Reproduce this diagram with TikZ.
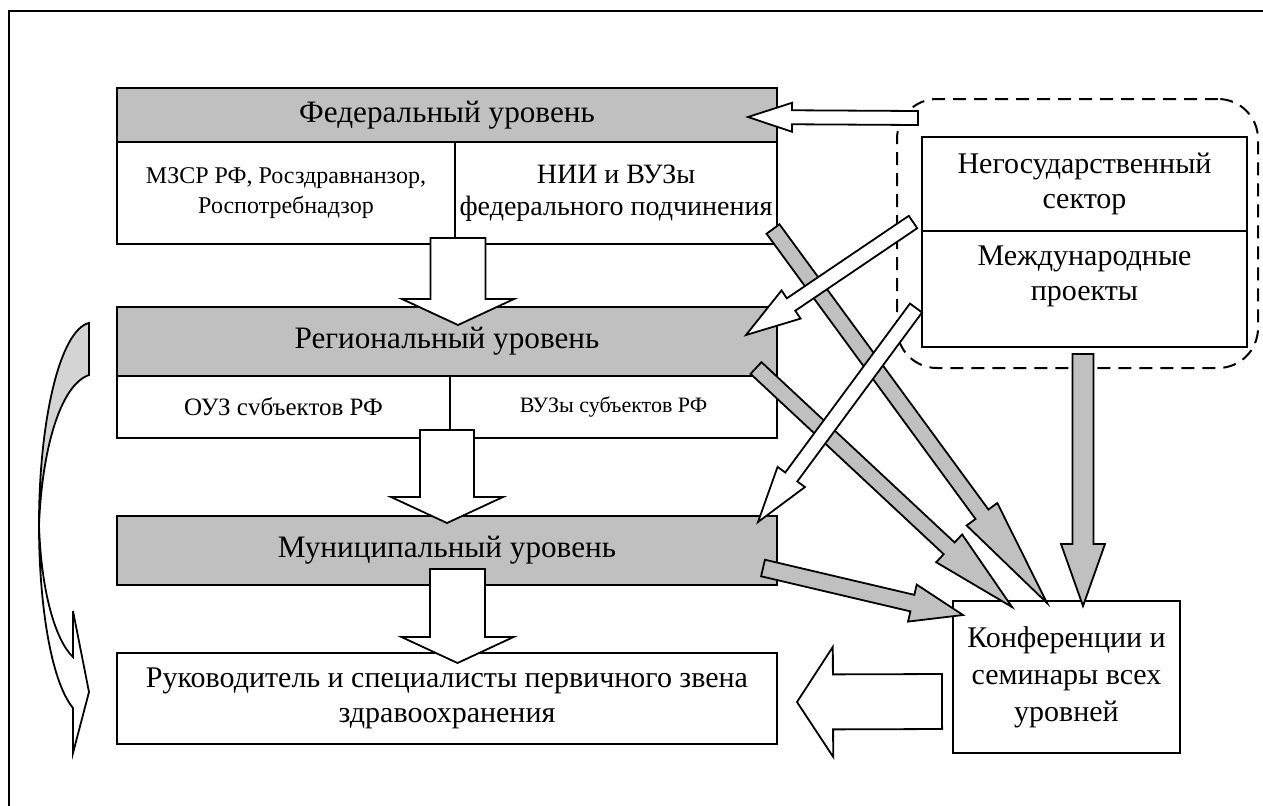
\documentclass[tikz,border=0pt]{standalone}
\usepackage{fontspec}
\setmainfont{Liberation Serif}
\usetikzlibrary{positioning, calc}
\definecolor{hdrgray}{RGB}{192,192,192}
\definecolor{curvegray}{RGB}{212,212,212}
\tikzstyle{box}=[draw, line width=1pt, outer sep=0pt, inner sep=0pt, align=center, minimum width=330pt]
\tikzstyle{hdr}=[box, fill=hdrgray, font=\fontsize{15.6}{18}\selectfont]
\tikzstyle{cell}=[box, fill=white]
\tikzstyle{warr}=[draw, line width=0.9pt, fill=white]
\tikzstyle{garr}=[draw, line width=0.9pt, fill=hdrgray]

% block arrow: style, tail, tip, shaft half width, head half width, head length (pt)
\newcommand\blockarr[6]{%
  \draw[#1] let \p1=(#2), \p2=(#3),
    \n1={atan2(\y2-\y1,\x2-\x1)}, \n2={veclen(\x2-\x1,\y2-\y1)-#6} in
    ($(\p1)+(\n1+90:#4pt)$) -- ($(\p1)+(\n1:\n2)+(\n1+90:#4pt)$)
    -- ($(\p1)+(\n1:\n2)+(\n1+90:#5pt)$) -- (\p2)
    -- ($(\p1)+(\n1:\n2)+(\n1-90:#5pt)$) -- ($(\p1)+(\n1:\n2)+(\n1-90:#4pt)$)
    -- ($(\p1)+(\n1-90:#4pt)$) -- cycle;}

\begin{document}
\begin{tikzpicture}[x=0.5pt, y=-0.5pt]
    \useasboundingbox (0,0) rectangle (1263,805);
    \draw[line width=1pt] (9,11) rectangle (1300,840);

    % levels
    \node [hdr, minimum height=27pt] (fed) at (447,115) {Федеральный уровень};
    \node [cell, minimum width=169pt, minimum height=51pt, font=\fontsize{12}{15}\selectfont,
           below right=0pt and 0pt of fed.south west] (fedl) {МЗСР РФ, Росздравнанзор,\\Роспотребнадзор};
    \node [cell, minimum width=161pt, minimum height=51pt, font=\fontsize{14}{16}\selectfont,
           right=0pt of fedl] (fedr) {НИИ и ВУЗы\\федерального подчинения};

    \node [hdr, minimum height=34.5pt] (reg) at (447,341.5) {Региональный уровень};
    \node [cell, minimum width=166.5pt, minimum height=31pt, font=\fontsize{12.5}{15}\selectfont,
           below right=0pt and 0pt of reg.south west] (regl) {ОУЗ сvбъектов РФ};
    \node [cell, minimum width=163.5pt, minimum height=31pt, font=\fontsize{11}{14}\selectfont,
           right=0pt of regl] (regr) {ВУЗы субъектов РФ};

    \node [hdr, minimum height=34.5pt] (mun) at (447,550.5) {Муниципальный уровень};
    \node [cell, minimum height=45.5pt, font=\fontsize{15}{17.5}\selectfont] (spec) at (447,698.5)
          {Руководитель и специалисты первичного звена\\здравоохранения};

    % right part
    \node [draw, line width=1pt, dash pattern=on 6.5pt off 4pt, rounded corners=20pt,
           minimum width=180.5pt, minimum height=134.5pt] (sect) at (1077.5,233.5) {};
    \node [cell, minimum width=162.5pt, minimum height=47pt, font=\fontsize{15}{17.5}\selectfont]
          (ngo) at (1084.5,184) {Негосударственный\\сектор};
    \node [cell, minimum width=162.5pt, minimum height=58pt, below=0pt of ngo] (intl) {};
    \node [align=center, font=\fontsize{15}{17.5}\selectfont] (intlt) at (1084.5,276) {Международные\\проекты};
    \node [cell, minimum width=113.5pt, minimum height=76pt, font=\fontsize{15}{18.5}\selectfont]
          (conf) at (1066.5,677) {Конференции и\\семинары всех\\уровней};

    % arrow ends
    \coordinate (v1s) at (458,238);   \coordinate (v1e) at (458,325);
    \coordinate (v2s) at (447,430);   \coordinate (v2e) at (447,523);
    \coordinate (v3s) at (457.5,569); \coordinate (v3e) at (457.5,663);
    \coordinate (h1s) at (918,118);   \coordinate (h1e) at (748,117);
    \coordinate (cfs) at (942,701.5); \coordinate (cfe) at (797,702);
    \coordinate (w1s) at (913,222);   \coordinate (w1e) at (746,335);
    \coordinate (w2s) at (916,308);   \coordinate (w2e) at (758,522);
    \coordinate (gas) at (773,229);   \coordinate (gae) at (1047,603);
    \coordinate (gbs) at (756,368);   \coordinate (gbe) at (1012,607);
    \coordinate (gcs) at (763,568);   \coordinate (gce) at (963,615);
    \coordinate (gds) at (1083,354);  \coordinate (gde) at (1083,606);

    \blockarr{garr}{gas}{gae}{4}{9.5}{55}
    \blockarr{garr}{gbs}{gbe}{4}{9.5}{43}
    \blockarr{garr}{gcs}{gce}{4.25}{9.5}{26}
    \blockarr{garr}{gds}{gde}{5.25}{11}{31}

    \blockarr{warr}{w1s}{w1e}{3.75}{8.5}{27}
    \blockarr{warr}{w2s}{w2e}{3.75}{8.5}{28}
    \blockarr{warr}{h1s}{h1e}{3.5}{7.25}{22}
    \blockarr{warr}{v1s}{v1e}{13.75}{28}{13}
    \blockarr{warr}{v2s}{v2e}{13.5}{28}{13}
    \blockarr{warr}{v3s}{v3e}{13.75}{28}{13}
    \blockarr{warr}{cfs}{cfe}{13.75}{27.5}{18}

    % curved arrow on the left
    \draw[line width=0.9pt, fill=curvegray] (89,323) .. controls (60,330) and (39,420) .. (39,525)
        .. controls (42,450) and (60,385) .. (89,375) -- cycle;
    \draw[line width=0.9pt, fill=white] (39,525) .. controls (39,600) and (50,680) .. (73,708)
        -- (73,753) -- (89,692) -- (73,611) -- (73,657) .. controls (55,640) and (41,590) .. (39,525) -- cycle;
\end{tikzpicture}
\end{document}
